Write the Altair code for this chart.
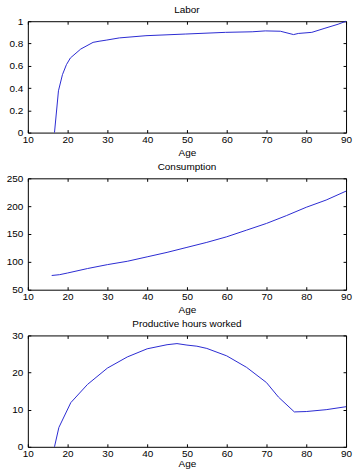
import altair as alt
import pandas as pd

# ---- data ----
x_ticks = [10, 20, 30, 40, 50, 60, 70, 80, 90]

labor_age = [16.7, 17.7, 18.7, 19.7, 20.7, 23.3, 26.4, 27.9, 29.7, 33, 39.7, 49.7,
             59.7, 66.4, 69.7, 73.5, 76.8, 78, 81.4, 84.7, 88, 90]
labor_val = [0, 0.375, 0.52, 0.61, 0.67, 0.75, 0.81, 0.82, 0.83, 0.85, 0.87, 0.885,
             0.90, 0.905, 0.913, 0.91, 0.88, 0.89, 0.90, 0.937, 0.973, 1.0]
labor_ticks = [0, 0.2, 0.4, 0.6, 0.8, 1]

cons_age = [16, 18, 20, 25, 30, 35, 40, 45, 50, 55, 60, 65, 70, 75, 80, 85, 90]
cons_val = [75.5, 77, 80, 88, 95, 101, 109, 117, 126, 135, 145, 157, 169, 183, 198, 211, 227]
cons_ticks = [50, 100, 150, 200, 250]

hours_age = [16.7, 17.8, 20.8, 25, 30, 35, 40, 45, 47.5, 50, 52.5, 55, 60, 65, 70,
             73, 77, 80, 85, 90]
hours_val = [0, 5.2, 11.9, 16.8, 21.2, 24.2, 26.4, 27.5, 27.8, 27.4, 27.1, 26.5, 24.5,
             21.4, 17.3, 13.4, 9.4, 9.5, 10, 10.8]
hours_ticks = [0, 10, 20, 30]

W, H = 320, 112
TL = 3
FONT = "Liberation Sans"
LINE_COLOR = "#2a2ad2"
TICK = dict(ticks=True, tickSize=TL, tickColor="black", tickWidth=1, tickOpacity=1,
            offset=-TL)


def panel(ages, vals, title, ydom, yticks, tpad):
    df = pd.DataFrame({"age": ages, "v": vals})
    xs = alt.Scale(domain=[10, 90], nice=False, zero=False)
    ys = alt.Scale(domain=ydom, nice=False, zero=False)
    main = alt.Chart(df).mark_line(color=LINE_COLOR, strokeWidth=1).encode(
        x=alt.X("age:Q", scale=xs,
                axis=alt.Axis(values=x_ticks, orient="bottom", title="Age",
                              labelPadding=2, titlePadding=tpad, **TICK)),
        y=alt.Y("v:Q", scale=ys,
                axis=alt.Axis(values=yticks, orient="left", title=None,
                              labelPadding=5, labelExpr="toString(datum.value)",
                              **TICK)),
    )
    ghost = alt.Chart(df).mark_line(strokeOpacity=0).encode(
        x=alt.X("age:Q", scale=xs,
                axis=alt.Axis(values=x_ticks, orient="top", title=None,
                              labels=False, **TICK)),
        y=alt.Y("v:Q", scale=ys,
                axis=alt.Axis(values=yticks, orient="right", title=None,
                              labels=False, **TICK)),
    )
    return alt.layer(main, ghost).resolve_axis(
        x="independent", y="independent"
    ).properties(
        width=W, height=H,
        title=alt.TitleParams(title, font=FONT, fontSize=10, fontWeight="normal",
                              color="black", offset=1, anchor="middle"),
    )


chart = alt.vconcat(
    panel(labor_age, labor_val, "Labor", [0, 1], labor_ticks, 3),
    panel(cons_age, cons_val, "Consumption", [50, 250], cons_ticks, 3),
    panel(hours_age, hours_val, "Productive hours worked", [0, 30], hours_ticks, 0),
    spacing=3,
).properties(
    padding={"left": 5, "top": 3, "right": 0, "bottom": 0},
    background="white",
).configure_view(
    stroke="black", strokeWidth=1
).configure_axis(
    domain=False, grid=False, labelFlush=False, labelOverlap=False,
    labelFont=FONT, labelFontSize=10, labelColor="black",
    titleFont=FONT, titleFontSize=10, titleFontWeight="normal", titleColor="black",
)

chart.save("out.html", embed_options={"renderer": "svg", "actions": False})
